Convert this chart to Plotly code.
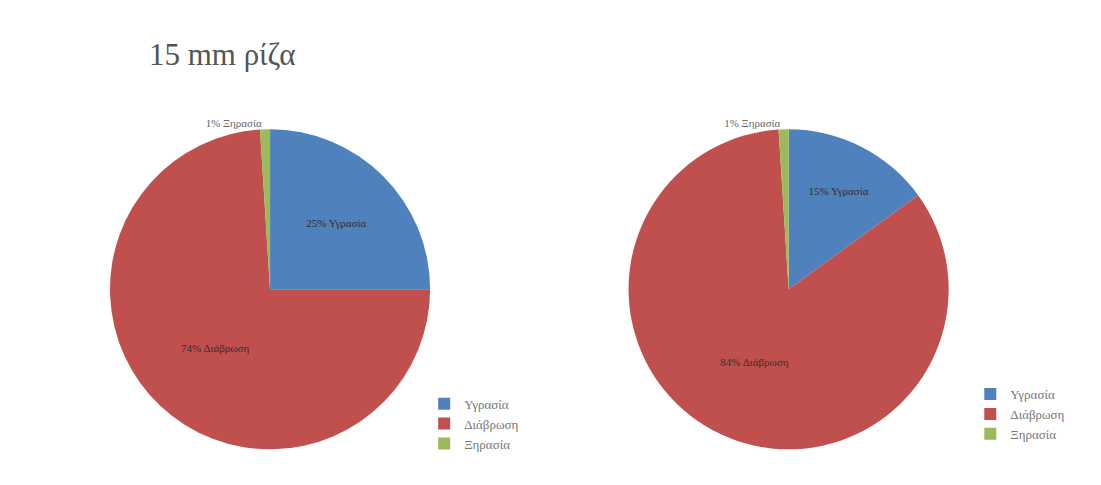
import plotly.graph_objects as go

# slices, clockwise from 12 o'clock
labels = ['Υγρασία', 'Διάβρωση', 'Ξηρασία']
left_values = [25, 74, 1]
right_values = [15, 84, 1]
colors = ['#4F81BD', '#C0504D', '#9BBB59']
title_text = '15 mm ρίζα'

W, H = 1101, 485


def pie(names, values, xdom, ydom, legend):
    return go.Pie(
        labels=names,
        values=values,
        sort=False,
        direction='clockwise',
        rotation=0,
        marker=dict(colors=colors, line=dict(width=0)),
        texttemplate='%{value}% %{label}',
        textposition=['inside', 'inside', 'outside'],
        insidetextorientation='horizontal',
        textfont=dict(family='Liberation Serif', size=11, color='#3a2a2a'),
        outsidetextfont=dict(family='Liberation Serif', size=11, color='#666'),
        domain=dict(x=xdom, y=ydom),
        legend=legend,
        hoverinfo='label+percent',
    )


# second pie needs its own legend entries, so make its labels distinct (invisibly)
right_labels = [s + '\u200b' for s in labels]

fig = go.Figure()
fig.add_trace(pie(labels, left_values, [0.088, 0.388], [0.09, 0.75], 'legend'))
fig.add_trace(pie(right_labels, right_values, [0.559, 0.859], [0.09, 0.75], 'legend2'))

legend_style = dict(
    font=dict(family='Liberation Serif', size=13, color='#777'),
    bgcolor='rgba(0,0,0,0)',
    xanchor='left', yanchor='top',
    itemwidth=30,
)
fig.update_layout(
    width=W, height=H,
    margin=dict(l=0, r=0, t=0, b=0),
    paper_bgcolor='white',
    title=dict(text=title_text, x=0.128, xanchor='left', y=0.905, yanchor='middle',
               font=dict(family='Liberation Serif', size=31, color='#555')),
    legend=dict(x=0.378, y=0.215, **legend_style),
    legend2=dict(x=0.874, y=0.235, **legend_style),
)

fig.write_html('out.html')
